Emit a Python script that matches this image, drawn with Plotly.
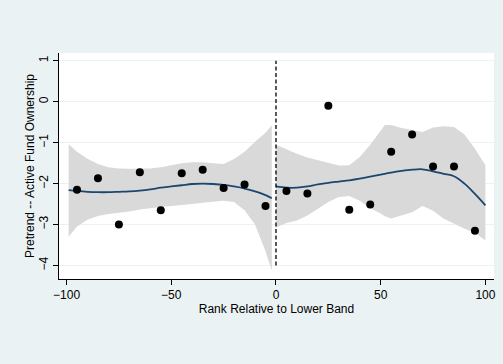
import plotly.graph_objects as go

# Binned scatter points
bin_x = [-95, -85, -75, -65, -55, -45, -35, -25, -15, -5,
         5, 15, 25, 35, 45, 55, 65, 75, 85, 95]
bin_y = [-2.15, -1.87, -3.00, -1.72, -2.65, -1.75, -1.66, -2.11, -2.02, -2.55,
         -2.18, -2.24, -0.10, -2.64, -2.51, -1.22, -0.80, -1.58, -1.58, -3.15]

# Left-of-cutoff local fit and CI
left_x = [-99, -95, -90, -85, -80, -75, -70, -65, -60, -55, -50, -45, -40,
          -35, -30, -25, -20, -15, -10, -5, -2]
left_fit = [-2.16, -2.18, -2.20, -2.21, -2.21, -2.20, -2.19, -2.17, -2.14, -2.10,
            -2.07, -2.04, -2.01, -2.00, -2.01, -2.03, -2.07, -2.12, -2.19, -2.28, -2.36]
left_hi = [-1.04, -1.22, -1.39, -1.52, -1.60, -1.63, -1.64, -1.64, -1.63, -1.60,
           -1.55, -1.50, -1.48, -1.48, -1.50, -1.52, -1.40, -1.22, -0.98, -0.76, -0.58]
left_lo = [-3.30, -3.05, -2.88, -2.79, -2.74, -2.71, -2.68, -2.63, -2.60, -2.57,
           -2.55, -2.53, -2.50, -2.47, -2.44, -2.42, -2.45, -2.65, -3.00, -3.65, -4.12]

# Right-of-cutoff local fit and CI
right_x = [0, 5, 10, 15, 20, 25, 30, 35, 40, 45, 50, 52, 55, 60, 65, 70, 75,
           80, 85, 90, 95, 100]
right_fit = [-2.07, -2.10, -2.10, -2.07, -2.02, -1.98, -1.95, -1.92, -1.88, -1.83,
             -1.78, -1.76, -1.73, -1.69, -1.66, -1.65, -1.70, -1.76, -1.82, -2.00,
             -2.25, -2.53]
right_hi = [-1.05, -1.17, -1.27, -1.36, -1.43, -1.50, -1.56, -1.55, -1.35, -1.05,
            -0.72, -0.57, -0.57, -0.64, -0.69, -0.74, -0.63, -0.60, -0.62, -0.80,
            -1.15, -1.55]
right_lo = [-3.07, -2.96, -2.90, -2.78, -2.62, -2.45, -2.33, -2.30, -2.42, -2.60,
            -2.73, -2.80, -2.85, -2.78, -2.70, -2.55, -2.66, -2.85, -2.97, -3.10,
            -3.20, -3.39]

x_ticks = [-100, -50, 0, 50, 100]
y_ticks = [-4, -3, -2, -1, 0, 1]
cutoff = 0

BAND = "#d9d9d9"
NAVY = "#1a476f"
BG = "#eaf2f3"

fig = go.Figure()
for xs, hi, lo in [(left_x, left_hi, left_lo), (right_x, right_hi, right_lo)]:
    fig.add_trace(go.Scatter(x=xs + xs[::-1], y=hi + lo[::-1], fill="toself",
                             fillcolor=BAND, line=dict(width=0), mode="lines",
                             hoverinfo="skip", showlegend=False))
for xs, fit in [(left_x, left_fit), (right_x, right_fit)]:
    fig.add_trace(go.Scatter(x=xs, y=fit, mode="lines",
                             line=dict(color=NAVY, width=1.8, shape="spline"),
                             showlegend=False))
fig.add_trace(go.Scatter(x=bin_x, y=bin_y, mode="markers",
                         marker=dict(color="black", size=8), showlegend=False))

fig.add_shape(type="line", x0=cutoff, x1=cutoff, y0=y_ticks[0], y1=y_ticks[-1],
              xref="x", yref="y",
              line=dict(color="black", width=1.3, dash="4px,2.5px"))

font = dict(family="Liberation Sans, Arial, sans-serif", size=12, color="black")
fig.update_layout(
    width=503, height=364,
    margin=dict(l=59, r=7, t=53, b=85),
    paper_bgcolor=BG, plot_bgcolor="white",
    font=font,
    xaxis=dict(range=[-103.6, 104.1], tickvals=x_ticks, showgrid=False,
               zeroline=False, showline=True, linecolor="black", linewidth=1,
               ticks="outside", ticklen=5, tickcolor="black",
               title=dict(text="Rank Relative to Lower Band", standoff=2,
                          font=font)),
    yaxis=dict(range=[-4.33, 1.19], tickvals=y_ticks, showgrid=True,
               gridcolor=BG, gridwidth=1, zeroline=False, showline=True,
               linecolor="black", linewidth=1, ticks="outside", ticklen=5,
               tickcolor="black", tickangle=-90,
               title=dict(text="Pretrend -- Active Fund Ownership", standoff=0,
                          font=font)),
)

fig.write_html("out.html")
